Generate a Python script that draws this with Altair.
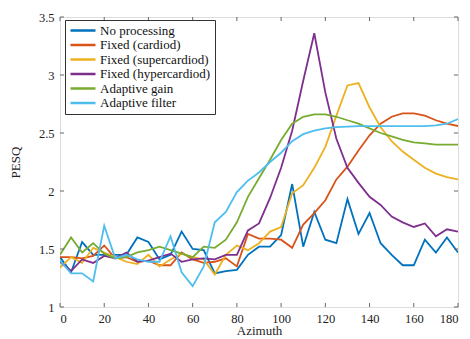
import altair as alt
import pandas as pd

azimuth = list(range(0, 181, 5))

no_processing = [1.43, 1.30, 1.56, 1.45, 1.45, 1.45, 1.45, 1.60, 1.56, 1.41, 1.45, 1.65, 1.50,
                 1.49, 1.29, 1.31, 1.32, 1.45, 1.52, 1.52, 1.62, 2.06, 1.52, 1.82, 1.58, 1.55,
                 1.93, 1.63, 1.81, 1.55, 1.45, 1.36, 1.36, 1.58, 1.47, 1.60, 1.47]
fixed_cardioid = [1.43, 1.43, 1.42, 1.44, 1.53, 1.42, 1.43, 1.39, 1.40, 1.36, 1.36, 1.47, 1.41,
                  1.38, 1.39, 1.42, 1.35, 1.63, 1.59, 1.59, 1.58, 1.51, 1.71, 1.81, 1.92, 2.10,
                  2.21, 2.35, 2.48, 2.58, 2.64, 2.67, 2.67, 2.65, 2.61, 2.58, 2.56]
fixed_super = [1.34, 1.43, 1.38, 1.51, 1.47, 1.43, 1.39, 1.37, 1.45, 1.35, 1.41, 1.46, 1.43,
               1.41, 1.28, 1.45, 1.53, 1.49, 1.55, 1.65, 1.69, 1.98, 2.05, 2.20, 2.38, 2.65,
               2.91, 2.93, 2.72, 2.55, 2.43, 2.34, 2.27, 2.20, 2.15, 2.12, 2.10]
fixed_hyper = [1.39, 1.31, 1.41, 1.38, 1.44, 1.42, 1.47, 1.39, 1.40, 1.43, 1.46, 1.39, 1.41,
               1.42, 1.41, 1.45, 1.45, 1.66, 1.72, 1.94, 2.20, 2.52, 2.95, 3.36, 2.85, 2.45,
               2.20, 2.07, 1.95, 1.88, 1.78, 1.73, 1.69, 1.72, 1.61, 1.67, 1.65]
adaptive_gain = [1.45, 1.60, 1.47, 1.55, 1.46, 1.42, 1.43, 1.47, 1.49, 1.52, 1.49, 1.46, 1.43,
                 1.52, 1.51, 1.58, 1.73, 1.95, 2.11, 2.27, 2.44, 2.58, 2.64, 2.66, 2.66, 2.64,
                 2.61, 2.58, 2.54, 2.50, 2.47, 2.44, 2.42, 2.41, 2.40, 2.40, 2.40]
adaptive_filter = [1.40, 1.29, 1.29, 1.22, 1.70, 1.42, 1.45, 1.41, 1.39, 1.39, 1.61, 1.30, 1.18,
                   1.35, 1.73, 1.82, 1.99, 2.09, 2.16, 2.25, 2.33, 2.43, 2.49, 2.52, 2.54, 2.55,
                   2.555, 2.56, 2.56, 2.56, 2.56, 2.56, 2.56, 2.56, 2.565, 2.58, 2.62]

series_names = ["No processing", "Fixed (cardiod)", "Fixed (supercardiod)",
                "Fixed (hypercardiod)", "Adaptive gain", "Adaptive filter"]
series_values = [no_processing, fixed_cardioid, fixed_super, fixed_hyper,
                 adaptive_gain, adaptive_filter]
series_colors = ["#0072BD", "#D95319", "#EDB120", "#7E2F8E", "#77AC30", "#4DBEEE"]

x_ticks = list(range(0, 181, 20))
y_ticks = [1, 1.5, 2, 2.5, 3, 3.5]

rows = []
for name, vals in zip(series_names, series_values):
    for a, v in zip(azimuth, vals):
        rows.append({"az": a, "pesq": v, "series": name})
df = pd.DataFrame(rows)

W, H = 398, 290
FONT = "Liberation Serif, Times New Roman, serif"
AX = "#666666"
TL = 4

xscale = alt.Scale(domain=[0, 180], nice=False, zero=False)
yscale = alt.Scale(domain=[1, 3.5], nice=False, zero=False)

xaxis = alt.Axis(values=x_ticks, title="Azimuth", grid=False, ticks=False,
                 domain=False, labelPadding=5, titlePadding=0)
yaxis = alt.Axis(values=y_ticks, title="PESQ", grid=False, ticks=False,
                 domain=False, labelPadding=6, titlePadding=16,
                 labelExpr="datum.value == 1 ? '1' : datum.value == 2 ? '2' : datum.value == 3 ? '3' : format(datum.value, '.1f')")

lines = alt.Chart(df).mark_line(strokeWidth=1.8, clip=True).encode(
    x=alt.X("az:Q", scale=xscale, axis=xaxis),
    y=alt.Y("pesq:Q", scale=yscale, axis=yaxis),
    color=alt.Color("series:N", sort=series_names,
                    scale=alt.Scale(domain=series_names, range=series_colors),
                    legend=alt.Legend(orient="none", legendX=5, legendY=3, title=None,
                                      symbolType="M-1,0H4", symbolSize=100,
                                      symbolStrokeWidth=2.5,
                                      strokeColor="#333", fillColor="white",
                                      padding=4, rowPadding=0.5, labelOffset=18,
                                      labelLimit=300)),
    detail="series:N",
)

xt = pd.DataFrame({"v": x_ticks})
yt = pd.DataFrame({"v": y_ticks})

bottom_ticks = alt.Chart(xt).mark_rule(color=AX, strokeWidth=1).encode(
    x=alt.X("v:Q", scale=xscale, axis=xaxis), y=alt.value(H), y2=alt.value(H - TL))
top_ticks = alt.Chart(xt).mark_rule(color=AX, strokeWidth=1).encode(
    x=alt.X("v:Q", scale=xscale, axis=xaxis), y=alt.value(0), y2=alt.value(TL))
left_ticks = alt.Chart(yt).mark_rule(color=AX, strokeWidth=1).encode(
    y=alt.Y("v:Q", scale=yscale, axis=yaxis), x=alt.value(0), x2=alt.value(TL))
right_ticks = alt.Chart(yt).mark_rule(color=AX, strokeWidth=1).encode(
    y=alt.Y("v:Q", scale=yscale, axis=yaxis), x=alt.value(W), x2=alt.value(W - TL))

chart = alt.layer(lines, bottom_ticks, top_ticks, left_ticks, right_ticks).properties(
    width=W, height=H,
    autosize=alt.AutoSizeParams(type="none"),
    padding={"left": 60, "top": 17, "right": 12, "bottom": 32},
).configure_view(stroke=AX, strokeWidth=1).configure(
    background="white", font=FONT
).configure_axis(
    labelFont=FONT, labelFontSize=12.5, labelColor="#222",
    titleFont=FONT, titleFontSize=13, titleFontWeight="normal", titleColor="#222"
).configure_legend(
    labelFont=FONT, labelFontSize=13, labelColor="#111"
)

chart.save("out.html", embed_options={"renderer": "svg", "actions": False})
